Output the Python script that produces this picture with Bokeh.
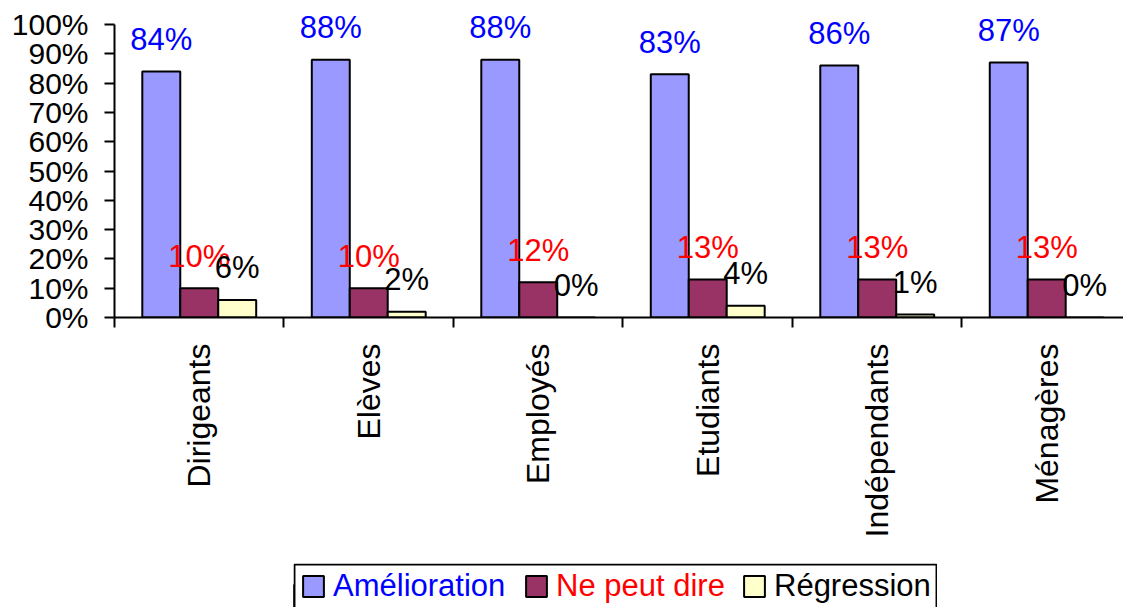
import math
from bokeh.plotting import figure
from bokeh.layouts import column, row
from bokeh.models import (Range1d, FixedTicker, NumeralTickFormatter, Legend,
                          LegendItem, BoxAnnotation, ColumnDataSource, Spacer)
from bokeh.core.properties import value
from bokeh.embed import file_html
from bokeh.resources import INLINE

# ---- data ----
categories = ["Dirigeants", "Elèves", "Employés", "Etudiants", "Indépendants", "Ménagères"]
amelioration = [0.84, 0.88, 0.88, 0.83, 0.86, 0.87]
ne_peut_dire = [0.10, 0.10, 0.12, 0.13, 0.13, 0.13]
regression = [0.06, 0.02, 0.00, 0.04, 0.01, 0.00]
series_names = ["Amélioration", "Ne peut dire", "Régression"]
y_ticks = [0.0, 0.1, 0.2, 0.3, 0.4, 0.5, 0.6, 0.7, 0.8, 0.9, 1.0]

# ---- style ----
FONT = "Liberation Sans"
fills = ["#9999FF", "#993366", "#FFFFCC"]
text_colors = ["#0000FF", "#FF0000", "#000000"]
offsets = [-0.224, 0.0, 0.224]
bar_w = 0.224

# frame extends a little above 100% so the top value labels are not clipped;
# the axis line itself stops at 100% (bounds)
p = figure(width=1123, height=563, output_backend="svg", toolbar_location=None,
           x_range=Range1d(0, 5.953), y_range=Range1d(0, 1.0751),
           min_border_left=114, min_border_right=0, min_border_top=2,
           min_border_bottom=246)
p.outline_line_color = None
p.xgrid.visible = False
p.ygrid.visible = False

for vals, fill, tc, off in zip([amelioration, ne_peut_dire, regression], fills, text_colors, offsets):
    xs = [i + 0.5 + off for i in range(len(categories))]
    labels = [f"{round(v * 100)}%" for v in vals]
    src = ColumnDataSource(dict(x=xs, top=vals, lbl=labels))
    p.vbar(x="x", top="top", width=bar_w, source=src, fill_color=fill,
           line_color="black", line_width=2)
    p.text(x="x", y="top", text="lbl", source=src, text_align="center",
           text_baseline="alphabetic", y_offset=-32, text_color=tc,
           text_font=value(FONT), text_font_size="31px")

# ---- y axis ----
ya = p.yaxis[0]
ya.bounds = (0, 1.0)
ya.ticker = FixedTicker(ticks=y_ticks)
ya.formatter = NumeralTickFormatter(format="0%")
ya.major_label_text_font = FONT
ya.major_label_text_font_size = "30px"
ya.major_label_text_color = "black"
ya.major_tick_out = 10
ya.major_tick_in = 0
ya.minor_tick_line_color = None
ya.major_label_standoff = 16
ya.axis_line_width = 2
ya.axis_line_color = "black"
ya.major_tick_line_width = 2
ya.major_tick_line_color = "black"

# ---- x axis ----
xa = p.xaxis[0]
centers = [i + 0.5 for i in range(len(categories))]
xa.ticker = FixedTicker(ticks=centers, minor_ticks=list(range(len(categories) + 1)))
xa.major_label_overrides = {c: name for c, name in zip(centers, categories)}
xa.major_tick_out = 0
xa.major_tick_in = 0
xa.major_tick_line_color = None
xa.minor_tick_out = 10
xa.minor_tick_in = 0
xa.minor_tick_line_width = 2
xa.minor_tick_line_color = "black"
xa.axis_line_width = 2
xa.axis_line_color = "black"
xa.major_label_orientation = math.pi / 2
xa.major_label_standoff = 16
xa.major_label_text_font = FONT
xa.major_label_text_font_size = "32px"
xa.major_label_text_color = "black"

# ---- legend (own small panel so each label keeps its colour) ----
lf = figure(width=644, height=44, output_backend="svg", toolbar_location=None,
            x_range=Range1d(0, 1), y_range=Range1d(0, 1),
            min_border=0, min_border_left=0, min_border_right=0,
            min_border_top=0, min_border_bottom=0)
lf.axis.visible = False
lf.grid.visible = False
lf.outline_line_color = None
lf.add_layout(BoxAnnotation(left=0.0015, right=0.9985, top=0.975, bottom=-1.0,
                            fill_alpha=0, line_color="black", line_alpha=1.0,
                            line_width=2))

legend_x = [7, 230, 448]
for name, fill, tc, lx in zip(series_names, fills, text_colors, legend_x):
    # legend swatch renderer, kept outside the visible range of this panel
    r = lf.vbar(x=[-5], top=[0.5], width=0.1, fill_color=fill, line_color="black", line_width=2)
    lg = Legend(items=[LegendItem(label=value(name), renderers=[r])],
                location=(lx, 3), label_text_color=tc, label_text_font=FONT,
                label_text_font_size="31px", glyph_width=26, glyph_height=26,
                label_standoff=7, padding=0, margin=0, border_line_color=None,
                background_fill_alpha=0)
    lf.add_layout(lg, "center")

layout = column(p, row(Spacer(width=293, height=44), lf))
open("out.html", "w").write(file_html(layout, INLINE))
